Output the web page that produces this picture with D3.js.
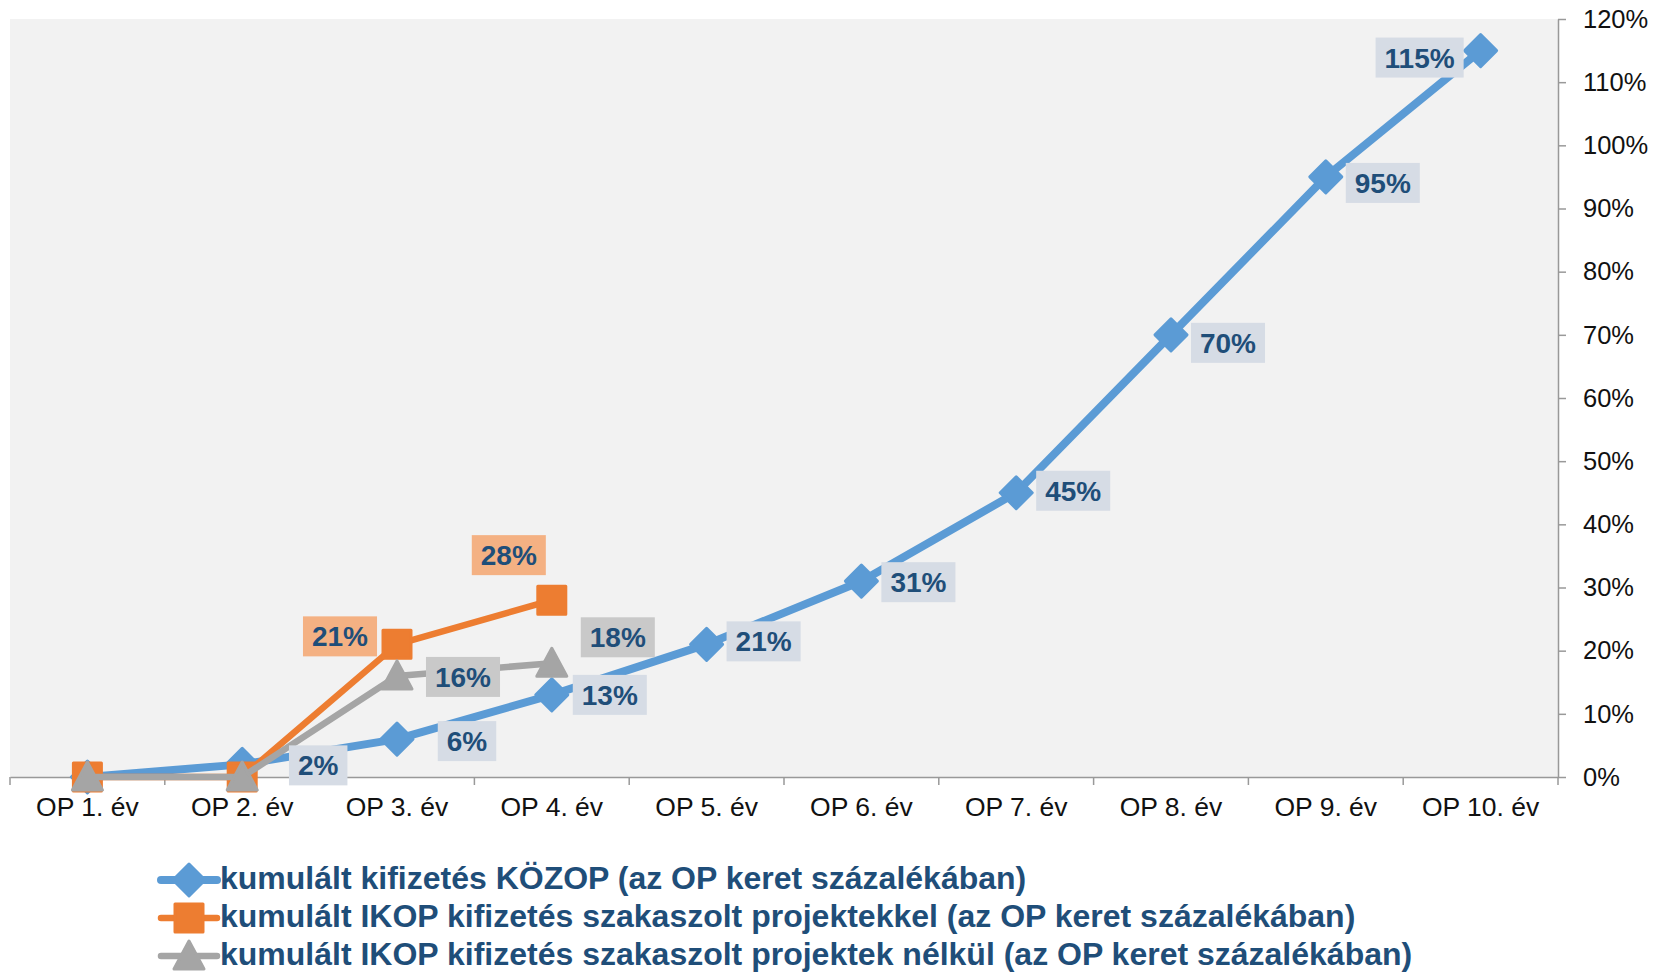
<!DOCTYPE html>
<html>
<head>
<meta charset="utf-8">
<script src="https://cdn.jsdelivr.net/npm/d3@7"></script>
<style>
  body { margin: 0; background: #fff; }
  svg { display: block; font-family: "Liberation Sans", Arial, sans-serif; }
</style>
</head>
<body>
<div class="graph"></div>
<script>
/*---------- DATA ----------*/
const categories = ["OP 1. év", "OP 2. év", "OP 3. év", "OP 4. év", "OP 5. év",
                    "OP 6. év", "OP 7. év", "OP 8. év", "OP 9. év", "OP 10. év"];
const kozop = [0, 2, 6, 13, 21, 31, 45, 70, 95, 115];
const ikopWith = [0, 0, 21, 28];
const ikopWithout = [0, 0, 16, 18];
const yTicks = [0, 10, 20, 30, 40, 50, 60, 70, 80, 90, 100, 110, 120];
const legendNames = [
    "kumulált kifizetés KÖZOP (az OP keret százalékában)",
    "kumulált IKOP kifizetés szakaszolt projektekkel (az OP keret százalékában)",
    "kumulált IKOP kifizetés szakaszolt projektek nélkül (az OP keret százalékában)"
];

//label placement (box centre offset from point), null = no label
const kozopLabelPos = [null, [76, 1], [70, 2], [58, 0], [57, -3], [57, 1], [57, -2], [57, 8], [57, 6], [-61, 7]];
const withLabelPos = [null, null, [-57, -8], [-43, -45]];
const withoutLabelPos = [null, null, [66, 1], [66, -26]];

const series = [
    {name: legendNames[0], values: kozop, color: "#5b9bd5", box: "#d6dce5", marker: "diamond", width: 8, pos: kozopLabelPos},
    {name: legendNames[1], values: ikopWith, color: "#ed7d31", box: "#f4b183", marker: "square", width: 6.5, pos: withLabelPos},
    {name: legendNames[2], values: ikopWithout, color: "#a5a5a5", box: "#c9c9c9", marker: "triangle", width: 6.5, pos: withoutLabelPos}
];

/*---------- D3 STUFF ----------*/
const SIZE = {X: 1662, Y: 973};
const PLOT = {LEFT: 10, RIGHT: 1558, TOP: 19, BOTTOM: 777};
const TEXT = "#1f4e79";

const svg = d3.select(".graph").append("svg")
    .attr("width", SIZE.X)
    .attr("height", SIZE.Y);

var x = d3.scaleBand()
    .domain(categories)
    .range([PLOT.LEFT, PLOT.RIGHT]);

var y = d3.scaleLinear()
    .domain([0, 120])
    .range([PLOT.BOTTOM, PLOT.TOP]);

const cx = i => x(categories[i]) + x.bandwidth() / 2;

//plot background
svg.append("rect")
    .attr("x", PLOT.LEFT)
    .attr("y", PLOT.TOP)
    .attr("width", PLOT.RIGHT - PLOT.LEFT)
    .attr("height", PLOT.BOTTOM - PLOT.TOP)
    .attr("fill", "#f2f2f2");

//y axis on the right
const yAxis = svg.append("g")
    .attr("class", "y axis")
    .attr("transform", `translate(${PLOT.RIGHT},0)`)
    .call(d3.axisRight(y).tickValues(yTicks).tickFormat(d => d + "%").tickSize(8).tickPadding(17).tickSizeOuter(0));
yAxis.select(".domain").attr("stroke", "#999").attr("stroke-width", 1.5);
yAxis.selectAll(".tick line").attr("stroke", "#999").attr("stroke-width", 1.5);
yAxis.selectAll(".tick text").attr("font-size", 25.5).attr("fill", "#111");

//x axis
const xAxis = svg.append("g")
    .attr("class", "x axis")
    .attr("transform", `translate(0,${PLOT.BOTTOM})`)
    .call(d3.axisBottom(x).tickSize(0).tickSizeOuter(0));
xAxis.select(".domain").attr("stroke", "#999").attr("stroke-width", 1.5);
xAxis.selectAll(".tick text")
    .attr("font-size", 26.5)
    .attr("fill", "#111")
    .attr("y", 39)
    .attr("dy", null);

//tick marks between categories
const bounds = categories.map(c => x(c)).concat([PLOT.RIGHT]);
xAxis.selectAll("line.bound")
    .data(bounds)
    .enter()
    .append("line")
        .attr("class", "bound")
        .attr("x1", d => d)
        .attr("x2", d => d)
        .attr("y1", 0)
        .attr("y2", 8)
        .attr("stroke", "#999")
        .attr("stroke-width", 1.5);

//marker shapes
function markerPath(type) {
    if (type == "diamond") return "M0,-16L16,0L0,16L-16,0Z";
    if (type == "square") return "M-14,-14H14V14H-14Z";
    return "M0,-15L15,13H-15Z";
}

const line = d3.line()
    .x((d, i) => cx(i))
    .y(d => y(d));

series.forEach(s => {
    const g = svg.append("g").attr("class", "series");

    g.append("path")
        .datum(s.values)
        .attr("fill", "none")
        .attr("stroke", s.color)
        .attr("stroke-width", s.width)
        .attr("stroke-linejoin", "round")
        .attr("stroke-linecap", "round")
        .attr("d", line);

    g.selectAll("path.marker")
        .data(s.values)
        .enter()
        .append("path")
            .attr("class", "marker")
            .attr("d", markerPath(s.marker))
            .attr("transform", (d, i) => `translate(${cx(i)},${y(d)})`)
            .attr("fill", s.color)
            .attr("stroke", s.color)
            .attr("stroke-width", 3)
            .attr("stroke-linejoin", "round");
});

//data labels on top
series.forEach(s => {
    s.values.forEach((v, i) => {
        const p = s.pos[i];
        if (!p) return;
        const lx = cx(i) + p[0], ly = y(v) + p[1];
        const g = svg.append("g").attr("class", "label");
        const t = g.append("text")
            .attr("x", lx)
            .attr("y", ly)
            .attr("dy", "0.36em")
            .attr("text-anchor", "middle")
            .attr("font-size", 28)
            .attr("font-weight", "bold")
            .attr("fill", TEXT)
            .text(v + "%");
        const w = t.node().getComputedTextLength() + 18;
        g.insert("rect", "text")
            .attr("x", lx - w / 2)
            .attr("y", ly - 20)
            .attr("width", w)
            .attr("height", 40)
            .attr("fill", s.box);
    });
});

//legend
const LEG = {X: 161, Y: 880, STEP: 38};
const legend = svg.append("g").attr("class", "legend");
series.forEach((s, k) => {
    const g = legend.append("g")
        .attr("transform", `translate(${LEG.X},${LEG.Y + k * LEG.STEP})`);
    g.append("line")
        .attr("x1", 0).attr("x2", 56)
        .attr("stroke", s.color)
        .attr("stroke-width", s.width)
        .attr("stroke-linecap", "round");
    g.append("path")
        .attr("d", markerPath(s.marker))
        .attr("transform", "translate(28,0)")
        .attr("fill", s.color)
        .attr("stroke", s.color)
        .attr("stroke-width", 3)
        .attr("stroke-linejoin", "round");
    g.append("text")
        .attr("x", 59)
        .attr("dy", "0.28em")
        .attr("font-size", 32)
        .attr("font-weight", "bold")
        .attr("fill", TEXT)
        .text(s.name);
});
</script>
</body>
</html>
